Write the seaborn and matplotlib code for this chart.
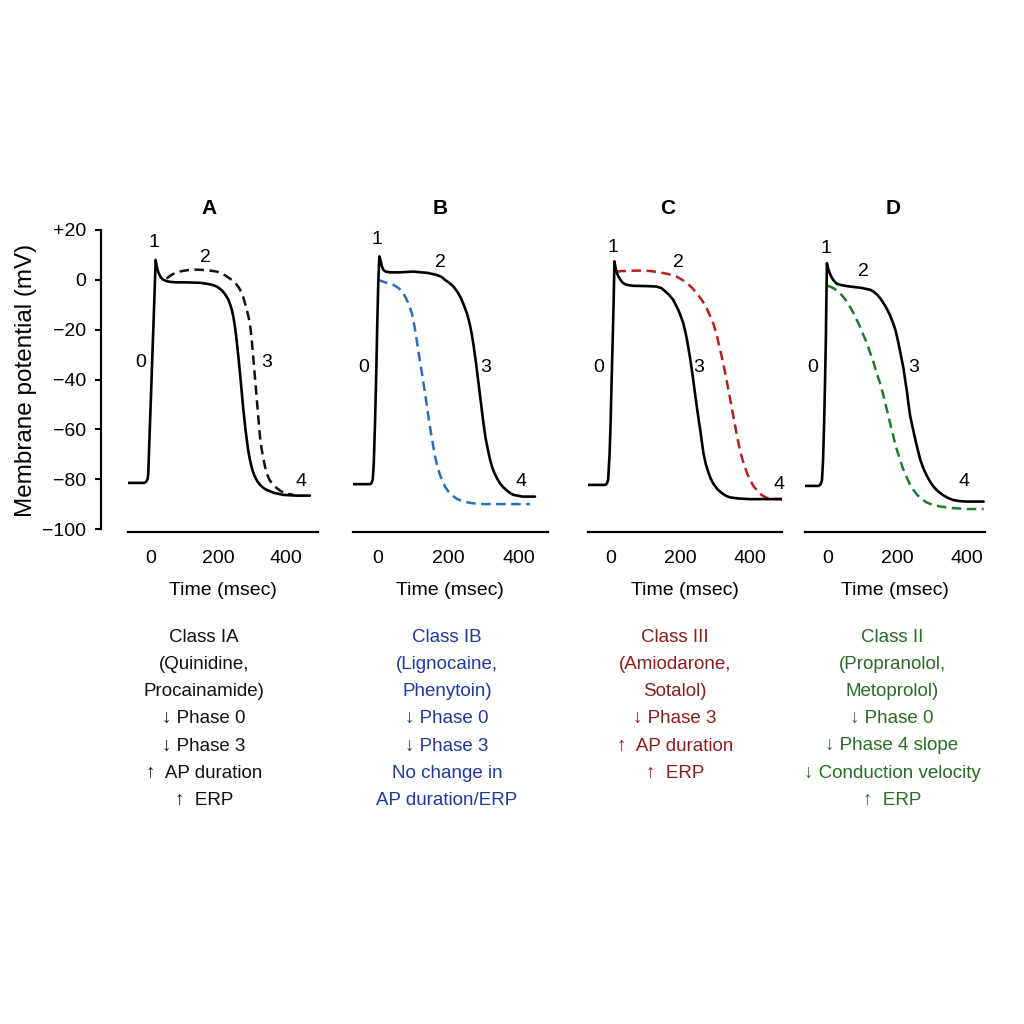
import matplotlib
matplotlib.use("Agg")
import matplotlib.pyplot as plt
import seaborn as sns
import pandas as pd

# ---- curve data (time in msec, potential in mV) ----
a_solid_t = [-68, -20, -14, -10, -8, -4, 0, 4, 8, 11, 14, 17, 22, 29, 37, 46, 56, 75, 100, 125, 145,
             162, 175, 186, 195, 204, 212, 218, 224, 230, 235, 240, 244, 248, 252, 259, 266, 273, 280,
             288, 293, 298, 303, 308, 316, 325, 334, 343, 365, 392, 430, 471]
a_solid_mv = [-81.5, -81.5, -81, -80, -78, -62, -47, -31, -16, -4, 8, 5.5, 3, 1, 0, -0.5, -0.8, -1,
              -1, -1.1, -1.2, -1.5, -1.8, -2.2, -2.7, -3.5, -4.5, -5.5, -6.7, -8.2, -10, -12.2, -14.7,
              -18, -22, -30.8, -40.5, -51, -60, -68.3, -72, -75, -77.3, -79, -81, -82.5, -83.6, -84.3,
              -85.5, -86.3, -86.6, -86.6]
a_dash_t = [46, 53, 60, 68, 76, 85, 95, 105, 116, 130, 150, 172, 195, 210, 222, 233, 244, 252, 260,
            267, 273, 279, 284, 289, 293, 298, 303, 308, 313, 318, 323, 327, 331, 338, 345, 352, 362,
            372, 385, 400, 422]
a_dash_mv = [0.5, 1.2, 1.9, 2.5, 2.9, 3.3, 3.6, 3.8, 4.0, 4.1, 4.0, 3.8, 3.3, 2.6, 1.6, 0.6, -0.5,
             -1.6, -3, -4.7, -6.7, -9.5, -12, -14.8, -17.4, -23, -30.8, -38.8, -46.9, -55, -62.9, -67,
             -70.3, -75, -78.3, -80.5, -82, -83.5, -84.8, -85.7, -86.3]

b_solid_t = [-75, -23, -19, -15, -12, -8.5, -5, -2, 1, 4, 6, 8, 11, 15, 22, 34, 60, 100, 140, 166,
             180, 190, 202, 214, 224, 234, 243, 252, 258, 262, 266, 270, 278, 285, 292, 299, 305, 310,
             314, 318, 324, 330, 338, 346, 355, 365, 374, 384, 410, 445]
b_solid_mv = [-82, -82, -81.7, -80.3, -74, -57.6, -38, -17.4, 0, 9.4, 8.5, 7.4, 5.5, 4, 3.3, 3, 3,
              3.3, 2.8, 2, 1.2, 0, -1.2, -2.7, -4.6, -7, -10, -13.4, -16.5, -19, -22, -25.4, -33.5,
              -41.5, -49.5, -57.6, -63.5, -67, -69.8, -72.3, -75.3, -77.5, -79.8, -81.7, -83.2, -84.5,
              -85.5, -86.3, -87, -87]
b_dash_t = [1, 10, 20, 32, 43, 52, 60, 66, 72, 78, 85, 90, 96, 100, 105, 109, 114, 120, 129, 136,
            143, 148, 152, 157, 162, 168, 175, 182, 190, 200, 210, 225, 242, 270, 300, 360, 431]
b_dash_mv = [0, -0.5, -1, -1.5, -2, -2.7, -3.5, -4.3, -5.4, -7, -9, -11, -13.4, -16, -20, -23.5, -28,
             -33.5, -41.5, -48, -54.9, -59.5, -63, -67, -71, -74.7, -78, -80.5, -83, -85, -86.5, -88,
             -89, -89.7, -90, -90, -90]

c_solid_t = [-65, -17, -12, -8, -4, -1, 2, 5, 8, 10, 13, 16, 20, 25, 30, 35, 45, 64, 100, 131, 145,
             155, 167, 179, 188, 195, 202, 208, 213, 218, 222, 227, 232, 237, 242, 247, 252, 257, 262,
             266, 273, 280, 287, 294, 306, 318, 330, 342, 370, 400, 496]
c_solid_mv = [-82.3, -82.3, -81.8, -80.3, -70, -57.6, -40, -24, -7, 7.4, 5, 3.3, 1.8, 0.5, -0.5,
              -1.3, -2, -2.4, -2.5, -2.7, -3.3, -4.5, -6, -8, -10.5, -12.5, -15, -17.4, -20.3, -23.5,
              -26.8, -30.8, -35.5, -40.5, -45.8, -50.9, -55.8, -60.5, -65.5, -69.6, -74, -77.2, -79.8,
              -81.7, -84, -85.5, -86.6, -87.3, -87.8, -88, -88]
c_dash_t = [16, 30, 50, 70, 93, 115, 140, 165, 189, 205, 220, 234, 247, 260, 272, 283, 294, 302, 309,
            316, 323, 329, 335, 341, 347, 353, 359, 365, 371, 378, 385, 392, 400, 410, 420, 433, 448,
            470, 493]
c_dash_mv = [3.3, 3.5, 3.6, 3.7, 3.7, 3.5, 3.0, 2.3, 1.3, 0, -1.5, -3.3, -5.4, -7.8, -10.5, -13.8,
             -17.4, -21, -25, -29.2, -33.5, -37.7, -42, -46.4, -50.9, -55.5, -60, -64.3, -68.3, -72,
             -75, -77.8, -80.3, -82.8, -84.5, -86.3, -87.5, -87.9, -88]

d_solid_t = [-65, -27, -21, -17, -14, -11, -8.5, -6, -4.5, -3, 0, 5, 10, 15, 20, 26, 35, 45, 64, 95,
             122, 132, 142, 151, 160, 169, 178, 186, 194, 200, 206, 212, 218, 223, 228, 232, 237, 245,
             252, 259, 266, 275, 284, 294, 304, 316, 330, 345, 361, 380, 400, 448]
d_solid_mv = [-82.7, -82.7, -82, -80.3, -72, -57.6, -42, -24, -8, 6.7, 4.8, 2.7, 1.2, 0, -0.8, -1.6,
              -2, -2.3, -2.7, -3.2, -4, -4.8, -6, -7.5, -9.4, -11.5, -14, -16.8, -20, -23.5, -27.5,
              -31.7, -36, -40.8, -45.5, -50, -54.9, -60, -64.5, -68.5, -72.3, -75.8, -78.5, -81, -83,
              -84.8, -86.3, -87.5, -88.4, -88.8, -89, -89]
d_dash_t = [0, 9, 18, 26, 35, 45, 55, 64, 74, 83, 93, 102, 112, 121, 131, 140, 150, 158, 165, 172,
            179, 186, 193, 200, 208, 216, 226, 235, 246, 257, 270, 285, 304, 325, 350, 400, 448]
d_dash_mv = [-2.4, -2.9, -3.5, -4.4, -5.4, -7, -8.8, -11, -13.4, -16.1, -19, -22.1, -25.4, -29.1,
             -33, -37.3, -41.5, -45.5, -49.5, -53.5, -57.6, -61.5, -65.5, -69, -72.3, -75.8, -79,
             -81.8, -84.3, -86.3, -88, -89.4, -90.4, -91, -91.5, -92, -92]

panel_letters = ["A", "B", "C", "D"]
phase_names = ["0", "1", "2", "3", "4"]
x_ticks = [0, 200, 400]
y_ticks = [-100, -80, -60, -40, -20, 0, 20]
y_tick_labels = ["\u2212100", "\u221280", "\u221260", "\u221240", "\u221220", "0", "+20"]

captions = [
    ["Class IA", "(Quinidine,", "Procainamide)", "\u2193 Phase 0", "\u2193 Phase 3",
     "\u2191  AP duration", "\u2191  ERP"],
    ["Class IB", "(Lignocaine,", "Phenytoin)", "\u2193 Phase 0", "\u2193 Phase 3",
     "No change in", "AP duration/ERP"],
    ["Class III", "(Amiodarone,", "Sotalol)", "\u2193 Phase 3", "\u2191  AP duration", "\u2191  ERP"],
    ["Class II", "(Propranolol,", "Metoprolol)", "\u2193 Phase 0", "\u2193 Phase 4 slope",
     "\u2193 Conduction velocity", "\u2191  ERP"],
]

# ---- styling / layout ----
sns.set_style("white")
plt.rcParams["font.family"] = ["Liberation Sans", "DejaVu Sans"]
plt.rcParams["text.color"] = "black"
plt.rcParams["axes.labelcolor"] = "black"
plt.rcParams["xtick.color"] = "black"
plt.rcParams["ytick.color"] = "black"

dash_colors = ["#111111", "#2a6ebb", "#b3201e", "#1f7a2c"]
text_colors = ["#111111", "#1f3a9c", "#8b1c1c", "#2a6a2a"]

# axes rectangles in pixel units (left, right) plus x-limits per panel
px_lr = [(128, 318), (352.6, 548), (588, 782), (805, 985)]
xlims = [(-68, 495), (-72, 482), (-66, 492), (-66, 452)]
label_pos = [
    {"0": (-31, -33), "1": (9, 15), "2": (160, 9), "3": (343, -33), "4": (446, -81)},
    {"0": (-41, -35), "1": (-4, 16), "2": (176, 7), "3": (305, -35), "4": (406, -81)},
    {"0": (-34, -35), "1": (7, 13), "2": (194, 7), "3": (251, -35), "4": (482, -82)},
    {"0": (-45, -35), "1": (-6, 12.5), "2": (102, 3.5), "3": (246, -35), "4": (393, -81)},
]
title_x = [209, 440, 668, 893]
caption_x = [204, 447, 675, 892]

solids = [(a_solid_t, a_solid_mv), (b_solid_t, b_solid_mv), (c_solid_t, c_solid_mv), (d_solid_t, d_solid_mv)]
dashes = [(a_dash_t, a_dash_mv), (b_dash_t, b_dash_mv), (c_dash_t, c_dash_mv), (d_dash_t, d_dash_mv)]

W = 1024
fig = plt.figure(figsize=(10.24, 10.24), dpi=100)
top_px, bot_px = 230, 531.5

for i in range(4):
    l, r = px_lr[i]
    ax = fig.add_axes([l / W, 1 - bot_px / W, (r - l) / W, (bot_px - top_px) / W])
    ax.patch.set_alpha(0)

    st, sv = solids[i]
    dt, dv = dashes[i]
    df_s = pd.DataFrame({"Time (msec)": st, "mV": sv})
    df_d = pd.DataFrame({"Time (msec)": dt, "mV": dv})
    sns.lineplot(data=df_d, x="Time (msec)", y="mV", ax=ax, color=dash_colors[i], lw=1.8,
                 estimator=None, sort=False, linestyle=(0, (3.8, 2.2)))
    sns.lineplot(data=df_s, x="Time (msec)", y="mV", ax=ax, color="black", lw=1.9,
                 estimator=None, sort=False)

    ax.set_xlim(*xlims[i])
    ax.set_ylim(-101, 20)
    ax.set_xticks(x_ticks)
    ax.tick_params(axis="x", direction="out", length=7, width=1.5, labelsize=14, pad=6)
    for s in ["top", "right"]:
        ax.spines[s].set_visible(False)
    ax.spines["bottom"].set_linewidth(1.6)
    ax.spines["bottom"].set_color("black")
    ax.set_xlabel("Time (msec)", fontsize=14, labelpad=11)
    ax.grid(False)

    if i == 0:
        ax.spines["left"].set_position(("outward", 19.5))
        ax.spines["left"].set_bounds(-100, 20)
        ax.spines["left"].set_linewidth(1.6)
        ax.spines["left"].set_color("black")
        ax.set_yticks(y_ticks)
        ax.set_yticklabels(y_tick_labels)
        ax.tick_params(axis="y", direction="out", length=4.5, width=1.5, labelsize=14, pad=6, left=True)
        ax.set_ylabel("Membrane potential (mV)", fontsize=17.5, labelpad=4)
    else:
        ax.spines["left"].set_visible(False)
        ax.set_yticks([])
        ax.set_ylabel("")

    for name in phase_names:
        tx, ty = label_pos[i][name]
        ax.text(tx, ty, name, fontsize=14, ha="center", va="center")

    fig.text(title_x[i] / W, 1 - 208 / W, panel_letters[i], fontsize=15, fontweight="bold",
             ha="center", va="center")

    for k, line in enumerate(captions[i]):
        fig.text(caption_x[i] / W, 1 - (637 + 27.2 * k) / W, line, fontsize=13.5,
                 ha="center", va="center", color=text_colors[i])

fig.savefig("out.png", dpi=100, facecolor="white")
